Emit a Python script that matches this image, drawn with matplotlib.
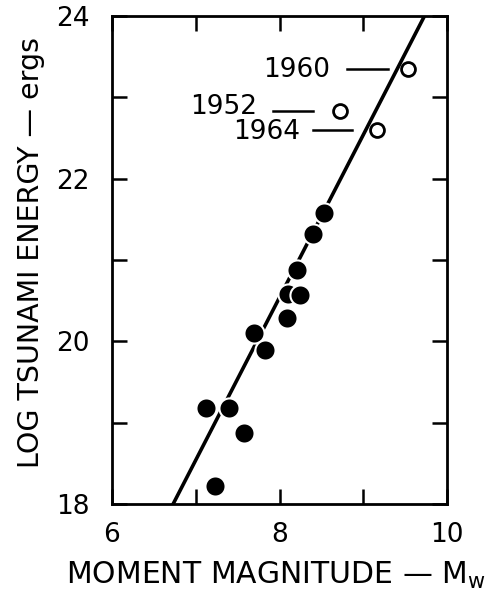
import matplotlib.pyplot as plt
import numpy as np

# filled points (tsunami events)
mw = [7.12, 7.23, 7.40, 7.58, 7.70, 7.83, 8.09, 8.10, 8.24, 8.21, 8.40, 8.53]
log_e = [19.18, 18.22, 19.18, 18.87, 20.10, 19.89, 20.29, 20.58, 20.57, 20.88, 21.32, 21.58]

# open points (big events)
big_years = ["1960", "1952", "1964"]
big_mw = [9.53, 8.72, 9.16]
big_log_e = [23.35, 22.83, 22.60]

# fit line
fit_mw = [6.73, 9.73]
fit_log_e = [18.0, 24.0]

plt.rcParams['font.family'] = ['DejaVu Sans']
fig = plt.figure(figsize=(4.88, 5.99), dpi=100)
fig.subplots_adjust(left=0.2295, right=0.916, top=0.973, bottom=0.1586)
ax = fig.add_subplot(111)

ax.plot(fit_mw, fit_log_e, color='black', lw=2.6, zorder=2)
ax.plot(mw, log_e, 'o', color='black', ms=14.5, mec='white', mew=1.5, zorder=3)
ax.plot(big_mw, big_log_e, 'o', mfc='white', mec='black', ms=10, mew=2, zorder=3)

# labels with short dashes pointing to the open circles
text_pos = [(8.61, 23.34), (7.73, 22.88), (8.25, 22.58)]
dash_pos = [(8.81, 9.29), (7.92, 8.40), (8.40, 8.87)]
for yr, (tx, ty), (d0, d1), yy in zip(big_years, text_pos, dash_pos, big_log_e):
    ax.text(tx, ty, yr, ha='right', va='center', fontsize=19)
    ax.plot([d0, d1], [yy, yy], color='black', lw=1.8)

ax.set_xlim(6, 10)
ax.set_ylim(18, 24)
ax.set_xticks([6, 7, 8, 9, 10])
ax.set_xticklabels(['6', '', '8', '', '10'])
ax.set_yticks([18, 19, 20, 21, 22, 23, 24])
ax.set_yticklabels(['18', '', '20', '', '22', '', '24'])
ax.tick_params(direction='in', length=11, width=1.8, top=True, right=True,
               labelsize=19)
ax.tick_params(axis='x', pad=13)
ax.tick_params(axis='y', pad=16)
for s in ax.spines.values():
    s.set_linewidth(2)

ax.set_xlabel(r'MOMENT MAGNITUDE — M$_\mathregular{w}$', fontsize=21.5)
ax.set_ylabel('LOG TSUNAMI ENERGY — ergs', fontsize=20.5)
ax.xaxis.set_label_coords(0.49, -0.115)
ax.yaxis.set_label_coords(-0.2, 0.515)

plt.savefig("out.png", dpi=100)
plt.close()
